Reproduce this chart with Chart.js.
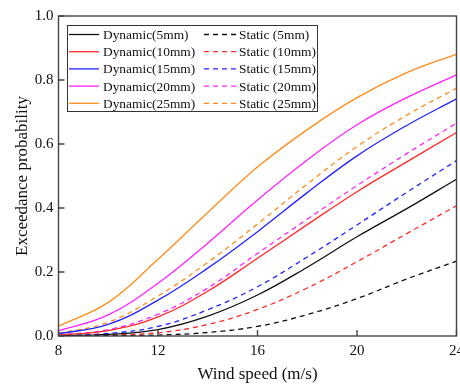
<!DOCTYPE html>
<html>
<head>
<meta charset="utf-8">
<title>Exceedance probability</title>
<script src="https://cdn.jsdelivr.net/npm/chart.js@4.4.1/dist/chart.umd.min.js"></script>
<style>
    html, body { margin: 0; padding: 0; background: #fff; overflow: hidden; }
    #wrap { width: 460px; height: 385px; overflow: hidden; }
</style>
</head>
<body>
<div id="wrap"><canvas id="fragilityChart" width="470" height="385"></canvas></div>
<script>
// Wind speed (m/s) and axis ticks
const windSpeeds = [8, 10, 12, 14, 16, 18, 20, 22, 24];
const xTicks = [8, 12, 16, 20, 24];
const yTicks = [0, 0.2, 0.4, 0.6, 0.8, 1.0];
const iceThickness = ['5mm', '10mm', '15mm', '20mm', '25mm'];

// Exceedance probability, dynamic analysis
const dynamic5  = [0.001, 0.005, 0.020, 0.062, 0.128, 0.215, 0.310, 0.398, 0.490];
const dynamic10 = [0.003, 0.017, 0.060, 0.140, 0.243, 0.348, 0.451, 0.544, 0.636];
const dynamic15 = [0.007, 0.036, 0.112, 0.212, 0.326, 0.448, 0.563, 0.658, 0.741];
const dynamic20 = [0.016, 0.066, 0.165, 0.290, 0.425, 0.550, 0.660, 0.745, 0.816];
const dynamic25 = [0.031, 0.105, 0.240, 0.386, 0.528, 0.645, 0.745, 0.823, 0.881];

// Exceedance probability, static analysis
const static5  = [0.000, 0.001, 0.003, 0.011, 0.030, 0.067, 0.117, 0.178, 0.234];
const static10 = [0.000, 0.003, 0.010, 0.036, 0.083, 0.150, 0.232, 0.320, 0.407];
const static15 = [0.001, 0.008, 0.030, 0.082, 0.154, 0.247, 0.347, 0.449, 0.548];
const static20 = [0.003, 0.020, 0.068, 0.150, 0.258, 0.365, 0.470, 0.570, 0.665];
const static25 = [0.008, 0.043, 0.125, 0.230, 0.350, 0.475, 0.592, 0.690, 0.774];

const lineColors = ['#111111', '#ff2a2a', '#2323ff', '#ff22ff', '#ff8c1a'];
const serif = "'Liberation Serif', 'Times New Roman', serif";

const dynamicSeries = [dynamic5, dynamic10, dynamic15, dynamic20, dynamic25];
const staticSeries = [static5, static10, static15, static20, static25];

function toPoints(values) {
    return windSpeeds.map((w, i) => ({ x: w, y: values[i] }));
}

const datasets = [];
dynamicSeries.forEach((vals, i) => datasets.push({
    label: 'Dynamic(' + iceThickness[i] + ')',
    data: toPoints(vals),
    borderColor: lineColors[i],
    borderWidth: 1.3,
    pointRadius: 0,
    tension: 0.4,
    fill: false
}));
staticSeries.forEach((vals, i) => datasets.push({
    label: 'Static (' + iceThickness[i] + ')',
    data: toPoints(vals),
    borderColor: lineColors[i],
    borderWidth: 1.3,
    borderDash: [5, 4],
    pointRadius: 0,
    tension: 0.4,
    fill: false
}));

// Frame with inward ticks, plus a two-column legend inside the plot
const frameLegendPlugin = {
    id: 'frameLegend',
    afterDraw(chart) {
        const { ctx, chartArea: a, scales: { x, y } } = chart;
        ctx.save();
        ctx.strokeStyle = '#444';
        ctx.lineWidth = 1.4;
        ctx.strokeRect(a.left, a.top, a.right - a.left, a.bottom - a.top);
        ctx.beginPath();
        xTicks.forEach(v => {
            const px = x.getPixelForValue(v);
            ctx.moveTo(px, a.bottom);
            ctx.lineTo(px, a.bottom - 6);
        });
        yTicks.forEach(v => {
            const py = y.getPixelForValue(v);
            ctx.moveTo(a.left, py);
            ctx.lineTo(a.left + 6, py);
        });
        ctx.stroke();

        // legend box
        const box = { left: 67.5, top: 25.5, width: 250, height: 86 };
        ctx.fillStyle = '#fff';
        ctx.fillRect(box.left, box.top, box.width, box.height);
        ctx.strokeStyle = '#333';
        ctx.lineWidth = 1;
        ctx.strokeRect(box.left, box.top, box.width, box.height);

        ctx.font = '13.4px ' + serif;
        ctx.textBaseline = 'middle';
        ctx.textAlign = 'left';
        const n = iceThickness.length;
        const cols = [{ x0: 69, x1: 99, tx: 103 }, { x0: 204, x1: 236, tx: 239 }];
        chart.data.datasets.forEach((ds, i) => {
            const col = cols[Math.floor(i / n)];
            const rowY = 34.5 + (i % n) * 17.2;
            ctx.strokeStyle = ds.borderColor;
            ctx.lineWidth = 1.3;
            ctx.setLineDash(ds.borderDash || []);
            ctx.beginPath();
            ctx.moveTo(col.x0, rowY);
            ctx.lineTo(col.x1, rowY);
            ctx.stroke();
            ctx.setLineDash([]);
            ctx.fillStyle = '#111';
            ctx.fillText(ds.label, col.tx, rowY + 1);
        });
        ctx.restore();
    }
};

new Chart(document.getElementById('fragilityChart'), {
    type: 'line',
    data: { datasets },
    plugins: [frameLegendPlugin],
    options: {
        responsive: false,
        animation: false,
        layout: { padding: { top: 16, right: 13, bottom: 0, left: 0 } },
        plugins: {
            legend: { display: false },
            tooltip: { enabled: false }
        },
        scales: {
            x: {
                type: 'linear',
                min: 8,
                max: 24,
                afterBuildTicks: s => { s.ticks = xTicks.map(v => ({ value: v })); },
                afterFit: s => { s.height = 49; },
                grid: { display: false, drawTicks: false },
                border: { display: false },
                ticks: { color: '#111', padding: 6, font: { family: serif, size: 15 } },
                title: {
                    display: true,
                    text: 'Wind speed (m/s)',
                    color: '#111',
                    padding: { top: 0, bottom: 0 },
                    font: { family: serif, size: 17 }
                }
            },
            y: {
                min: 0,
                max: 1,
                afterBuildTicks: s => { s.ticks = yTicks.map(v => ({ value: v })); },
                afterFit: s => { s.width = 58.5; },
                grid: { display: false, drawTicks: false },
                border: { display: false },
                ticks: {
                    color: '#111',
                    padding: 5,
                    font: { family: serif, size: 15 },
                    callback: v => v.toFixed(1)
                },
                title: {
                    display: true,
                    text: 'Exceedance probability',
                    color: '#111',
                    padding: { top: 12, bottom: 0 },
                    font: { family: serif, size: 17 }
                }
            }
        }
    }
});
</script>
</body>
</html>
